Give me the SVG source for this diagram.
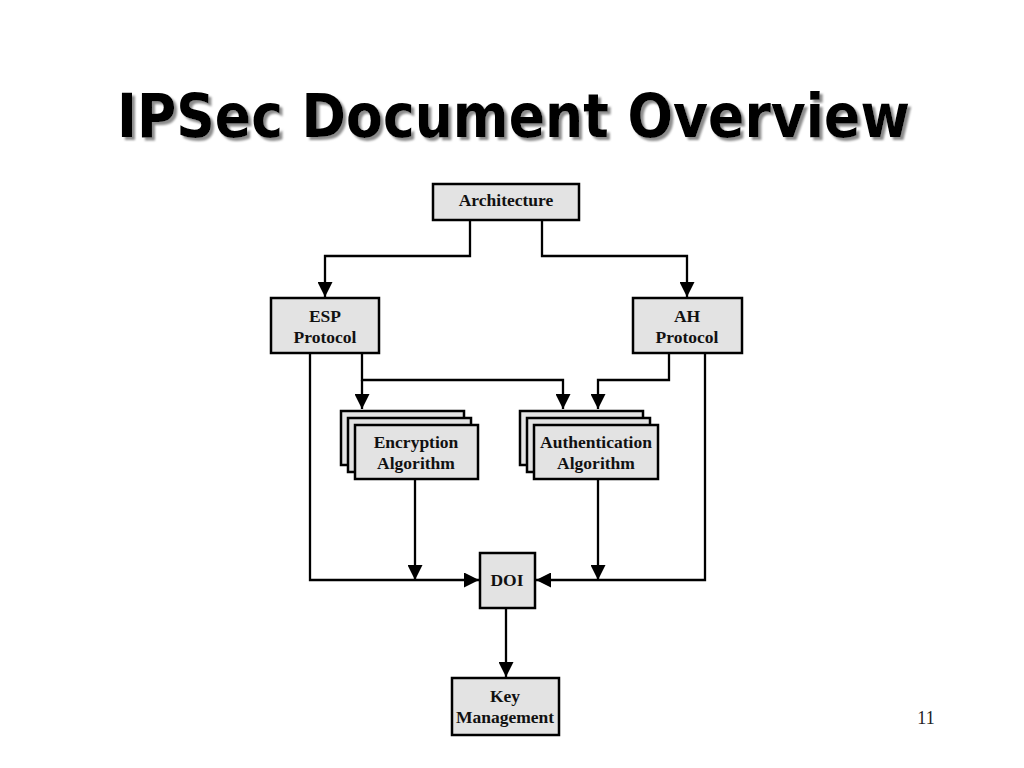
<svg xmlns="http://www.w3.org/2000/svg" width="1024" height="768" viewBox="0 0 1024 768">
  <defs>
    <marker id="arr" viewBox="0 0 15 15" refX="15" refY="7.5" markerWidth="15" markerHeight="15" markerUnits="userSpaceOnUse" orient="auto">
      <path d="M0,0 L15,7.5 L0,15 Z" fill="#000"/>
    </marker>
    <filter id="shadow" filterUnits="userSpaceOnUse" x="90" y="60" width="850" height="110">
      <feDropShadow dx="3" dy="3" stdDeviation="1" flood-color="#8c8c8c" flood-opacity="1"/>
    </filter>
  </defs>
  <style>
    .box { fill: #e3e3e3; stroke: #000; stroke-width: 2.5; }
    .lbl { font-family: "Liberation Serif", "Times New Roman", serif; font-weight: bold; font-size: 17.5px; fill: #111; text-anchor: middle; }
    .conn { fill: none; stroke: #000; stroke-width: 2.3; }
    .title { font-family: "DejaVu Sans", "Liberation Sans", sans-serif; font-weight: bold; font-size: 60px; }
  </style>
  <rect x="0" y="0" width="1024" height="768" fill="#fff"/>

  <g id="title">
    <text class="title" x="117" y="137" textLength="793" lengthAdjust="spacingAndGlyphs" fill="#000" filter="url(#shadow)">IPSec Document Overview</text>
  </g>

  <g id="connectors">
    <path class="conn" d="M470,221 V256 H325 V297" marker-end="url(#arr)"/>
    <path class="conn" d="M542,221 V256 H687 V297" marker-end="url(#arr)"/>
    <path class="conn" d="M362,354 V380 H563 V409" marker-end="url(#arr)"/>
    <path class="conn" d="M362,380 V409" marker-end="url(#arr)"/>
    <path class="conn" d="M669,354 V380 H598 V409" marker-end="url(#arr)"/>
    <path class="conn" d="M310,354 V580 H479" marker-end="url(#arr)"/>
    <path class="conn" d="M415,480 V580" marker-end="url(#arr)"/>
    <path class="conn" d="M705,354 V580 H536" marker-end="url(#arr)"/>
    <path class="conn" d="M598,480 V580" marker-end="url(#arr)"/>
    <path class="conn" d="M506,608 V677" marker-end="url(#arr)"/>
  </g>

  <g id="architecture">
    <rect class="box" x="433" y="184" width="146" height="36"/>
    <text class="lbl" x="506" y="206">Architecture</text>
  </g>

  <g id="esp">
    <rect class="box" x="271" y="298" width="108" height="55"/>
    <text class="lbl" x="325" y="322">ESP</text>
    <text class="lbl" x="325" y="343">Protocol</text>
  </g>

  <g id="ah">
    <rect class="box" x="633" y="298" width="109" height="55"/>
    <text class="lbl" x="687" y="322">AH</text>
    <text class="lbl" x="687" y="343">Protocol</text>
  </g>

  <g id="encryption">
    <rect class="box" x="341" y="411" width="123" height="54"/>
    <rect class="box" x="348" y="418" width="123" height="54"/>
    <rect class="box" x="355" y="425" width="123" height="54"/>
    <text class="lbl" x="416" y="448">Encryption</text>
    <text class="lbl" x="416" y="469">Algorithm</text>
  </g>

  <g id="authentication">
    <rect class="box" x="520" y="411" width="123" height="54"/>
    <rect class="box" x="527" y="418" width="123" height="54"/>
    <rect class="box" x="534" y="425" width="124" height="54"/>
    <text class="lbl" x="596" y="448">Authentication</text>
    <text class="lbl" x="596" y="469">Algorithm</text>
  </g>

  <g id="doi">
    <rect class="box" x="480" y="553" width="55" height="55"/>
    <text class="lbl" x="507" y="586">DOI</text>
  </g>

  <g id="key">
    <rect class="box" x="452" y="678" width="107" height="57"/>
    <text class="lbl" x="505" y="702">Key</text>
    <text class="lbl" x="505" y="723">Management</text>
  </g>

  <text x="926" y="724" font-family="Liberation Serif, Times New Roman, serif" font-size="18" text-anchor="middle" fill="#222">11</text>
</svg>
